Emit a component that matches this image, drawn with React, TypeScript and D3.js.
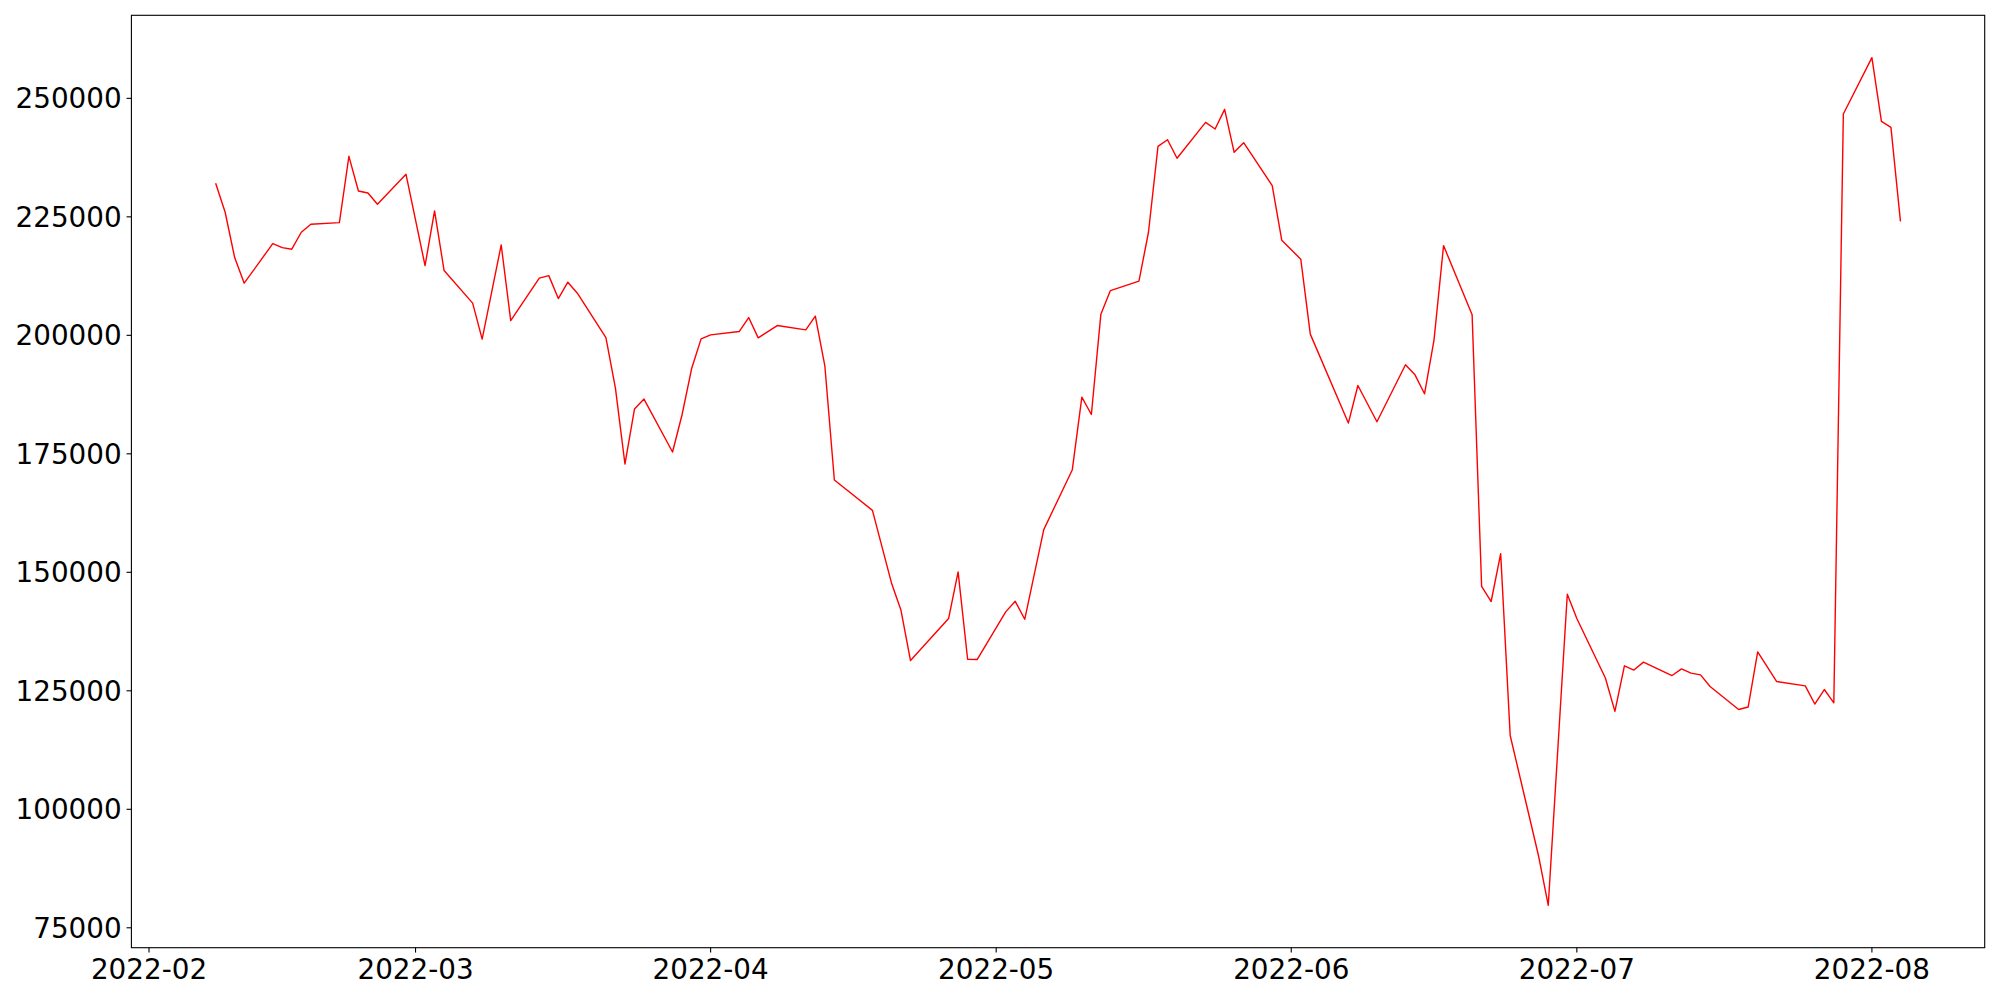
import React, { useEffect, useRef } from "react";
import * as d3 from "d3";

const dates: string[] = [
  "2022-02-08","2022-02-09","2022-02-10","2022-02-11","2022-02-14","2022-02-15","2022-02-16","2022-02-17","2022-02-18",
  "2022-02-21","2022-02-22","2022-02-23","2022-02-24","2022-02-25","2022-02-28","2022-03-02","2022-03-03","2022-03-04",
  "2022-03-07","2022-03-08","2022-03-10","2022-03-11","2022-03-14","2022-03-15","2022-03-16","2022-03-17","2022-03-18",
  "2022-03-21","2022-03-22","2022-03-23","2022-03-24","2022-03-25","2022-03-28","2022-03-29","2022-03-30","2022-03-31",
  "2022-04-01","2022-04-04","2022-04-05","2022-04-06","2022-04-08","2022-04-11","2022-04-12","2022-04-13","2022-04-14",
  "2022-04-18","2022-04-20","2022-04-21","2022-04-22","2022-04-26","2022-04-27","2022-04-28","2022-04-29","2022-05-02",
  "2022-05-03","2022-05-04","2022-05-06","2022-05-09","2022-05-10","2022-05-11","2022-05-12","2022-05-13","2022-05-16",
  "2022-05-17","2022-05-18","2022-05-19","2022-05-20","2022-05-23","2022-05-24","2022-05-25","2022-05-26","2022-05-27",
  "2022-05-30","2022-05-31","2022-06-02","2022-06-03","2022-06-07","2022-06-08","2022-06-10","2022-06-13","2022-06-14",
  "2022-06-15","2022-06-16","2022-06-17","2022-06-20","2022-06-21","2022-06-22","2022-06-23","2022-06-24","2022-06-27",
  "2022-06-28","2022-06-30","2022-07-01","2022-07-04","2022-07-05","2022-07-06","2022-07-07","2022-07-08","2022-07-11",
  "2022-07-12","2022-07-13","2022-07-14","2022-07-15","2022-07-18","2022-07-19","2022-07-20","2022-07-22","2022-07-25",
  "2022-07-26","2022-07-27","2022-07-28","2022-07-29","2022-08-01","2022-08-02","2022-08-03","2022-08-04",
];

const values: number[] = [
  232100,225970,216400,211000,219350,218500,218170,221750,223440,
  223780,237770,230460,230040,227650,233980,214710,226240,213660,
  206790,199200,219080,203120,212060,212600,207760,211210,208890,
  199530,188870,172850,184440,186550,175380,183240,192940,199260,
  200100,200800,203750,199470,202060,201160,204050,193570,169470,
  163070,147760,141990,131380,140240,150080,131660,131600,141650,
  143880,140090,159000,171650,186970,183300,204470,209440,211420,
  221750,239880,241270,237350,244940,243530,247680,238620,240640,
  231580,220070,216060,200250,181490,189420,181760,193780,191670,
  187670,199050,218930,204320,147020,143840,153940,115570,89980,
  79740,145360,140240,127710,120670,130270,129380,131050,128220,
  129630,128740,128350,125920,121050,121580,133220,126960,126050,
  122210,125270,122470,246690,258580,245130,243870,224030,
];

const yTicks: number[] = [75000, 100000, 125000, 150000, 175000, 200000, 225000, 250000];
const xTickLabels: string[] = ["2022-02", "2022-03", "2022-04", "2022-05", "2022-06", "2022-07", "2022-08"];

const W = 2000;
const H = 1000;
const M = { left: 131.4, top: 15.3, right: 2000 - 1984.7, bottom: 1000 - 947.7 };
const FONT = "'DejaVu Sans', sans-serif";
const FS = 27.8;

export default function App() {
  const ref = useRef<SVGSVGElement | null>(null);

  useEffect(() => {
    document.body.style.margin = "0";
    const svg = d3.select(ref.current);
    svg.selectAll("*").remove();

    const parse = d3.utcParse("%Y-%m-%d");
    const parseM = d3.utcParse("%Y-%m");
    const pts = dates.map((d, i) => ({ d: parse(d) as Date, v: values[i] }));

    const [x0, x1] = d3.extent(pts, (p) => p.d) as [Date, Date];
    const xPad = (x1.getTime() - x0.getTime()) * 0.05;
    const [y0, y1] = d3.extent(pts, (p) => p.v) as [number, number];
    const yPad = (y1 - y0) * 0.05;

    const x = d3
      .scaleUtc()
      .domain([new Date(x0.getTime() - xPad), new Date(x1.getTime() + xPad)])
      .range([M.left, W - M.right]);
    const y = d3.scaleLinear().domain([y0 - yPad, y1 + yPad]).range([H - M.bottom, M.top]);

    const g = svg.append("g");

    // line
    const line = d3
      .line<{ d: Date; v: number }>()
      .x((p) => x(p.d))
      .y((p) => y(p.v));
    g.append("path")
      .datum(pts)
      .attr("d", line)
      .attr("fill", "none")
      .attr("stroke", "#ff0000")
      .attr("stroke-width", 1.4)
      .attr("stroke-linejoin", "round");

    // frame
    g.append("rect")
      .attr("x", M.left)
      .attr("y", M.top)
      .attr("width", W - M.right - M.left)
      .attr("height", H - M.bottom - M.top)
      .attr("fill", "none")
      .attr("stroke", "#000")
      .attr("stroke-width", 1.1);

    const tickLen = 4.86;
    const pad = 4.86;

    // y ticks
    const yg = g.append("g");
    yTicks.forEach((t) => {
      const yy = y(t);
      yg.append("line")
        .attr("x1", M.left - tickLen)
        .attr("x2", M.left)
        .attr("y1", yy)
        .attr("y2", yy)
        .attr("stroke", "#000")
        .attr("stroke-width", 1.1);
      yg.append("text")
        .attr("x", M.left - tickLen - pad)
        .attr("y", yy)
        .attr("dy", "0.36em")
        .attr("text-anchor", "end")
        .attr("font-family", FONT)
        .attr("font-size", FS)
        .attr("fill", "#000")
        .text(String(t));
    });

    // x ticks
    const xg = g.append("g");
    const fmt = d3.utcFormat("%Y-%m");
    xTickLabels.forEach((lab) => {
      const dt = parseM(lab) as Date;
      const xx = x(dt);
      xg.append("line")
        .attr("x1", xx)
        .attr("x2", xx)
        .attr("y1", H - M.bottom)
        .attr("y2", H - M.bottom + tickLen)
        .attr("stroke", "#000")
        .attr("stroke-width", 1.1);
      xg.append("text")
        .attr("x", xx)
        .attr("y", H - M.bottom + tickLen + pad + FS * 0.76)
        .attr("text-anchor", "middle")
        .attr("font-family", FONT)
        .attr("font-size", FS)
        .attr("fill", "#000")
        .text(fmt(dt));
    });
  }, []);

  return (
    <div style={{ position: "absolute", left: 0, top: 0, width: W, height: H, background: "#fff" }}>
      <svg ref={ref} width={W} height={H} style={{ display: "block" }} />
    </div>
  );
}
